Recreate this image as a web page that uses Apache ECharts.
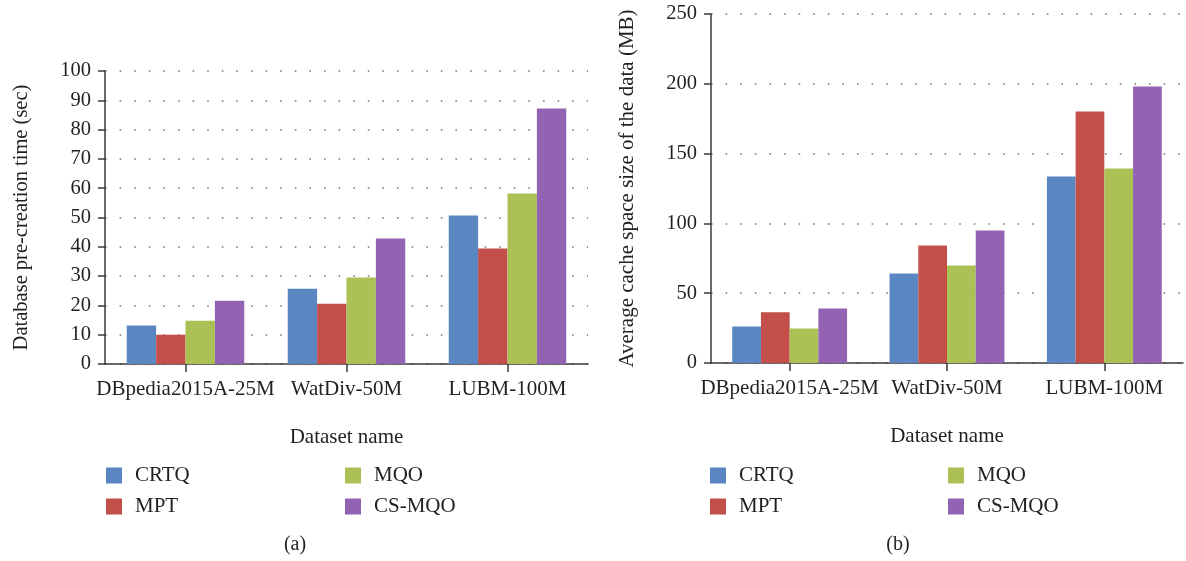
<!DOCTYPE html>
<html>
<head>
<meta charset="utf-8">
<script src="https://cdn.jsdelivr.net/npm/echarts@6/dist/echarts.min.js"></script>
<style>
html,body{margin:0;padding:0;background:#fff;}
#c{width:1186px;height:561px;}
</style>
</head>
<body>
<div id="c"></div>
<script>
const categories = ['DBpedia2015A-25M', 'WatDiv-50M', 'LUBM-100M'];
const seriesNames = ['CRTQ', 'MPT', 'MQO', 'CS-MQO'];
// (a) Database pre-creation time (sec)
const timeCRTQ = [13.1, 25.7, 50.7];
const timeMPT = [10.0, 20.6, 39.4];
const timeMQO = [14.8, 29.5, 58.2];
const timeCSMQO = [21.6, 42.8, 87.2];
// (b) Average cache space size of the data (MB)
const cacheCRTQ = [26.2, 64.2, 133.6];
const cacheMPT = [36.3, 84.2, 180.1];
const cacheMQO = [24.8, 69.9, 139.3];
const cacheCSMQO = [39.1, 94.9, 198.0];
const yTitleA = 'Database pre-creation time (sec)';
const yTitleB = 'Average cache space size of the data (MB)';
const xTitle = 'Dataset name';

const colors = ['#5a87c2', '#c24f4a', '#abc155', '#9263b2'];
const FONT = 'Liberation Serif';
const TXT = '#231f20';
const AXC = '#3a3a3a';

function xAxis(gi) {
  return {
    type: 'category', gridIndex: gi, data: categories,
    axisLine: { lineStyle: { color: AXC, width: 1.5 } },
    axisTick: { show: true, alignWithLabel: true, interval: 0, length: 8, lineStyle: { color: AXC, width: 1.5 } },
    axisLabel: { interval: 0, hideOverlap: false, color: TXT, fontFamily: FONT, fontSize: 21, margin: 15 },
    name: xTitle, nameLocation: 'middle', nameGap: 63,
    nameTextStyle: { color: TXT, fontFamily: FONT, fontSize: 21, verticalAlign: 'top' }
  };
}
function yAxis(gi, max, interval, name, fs) {
  return {
    type: 'value', gridIndex: gi, min: 0, max: max, interval: interval,
    axisLine: { show: true, lineStyle: { color: AXC, width: 1.5 } },
    axisTick: { show: true, length: 7, lineStyle: { color: AXC, width: 1.5 } },
    axisLabel: { color: TXT, fontFamily: FONT, fontSize: 20.5, margin: 14 },
    splitLine: { show: true, lineStyle: { color: '#7a7a7a', width: 1.6, type: [1.6, 13] } },
    name: name, nameLocation: 'middle', nameGap: 73, nameRotate: 90,
    nameTextStyle: { color: TXT, fontFamily: FONT, fontSize: fs }
  };
}
function bars(gi, arrs) {
  return arrs.map((d, i) => ({
    name: seriesNames[i], type: 'bar', xAxisIndex: gi, yAxisIndex: gi,
    data: d, barGap: '0%', barCategoryGap: '27%',
    itemStyle: { color: colors[i] }, emphasis: { disabled: true }, animation: false
  }));
}
function legend(left, names) {
  return {
    left: left, top: 465, orient: 'vertical', data: names, padding: 0,
    itemWidth: 16, itemHeight: 16, itemGap: 10, icon: 'rect', selectedMode: false,
    textStyle: { color: TXT, fontFamily: FONT, fontSize: 21, padding: [0, 0, 0, 8] }
  };
}

const chart = echarts.init(document.getElementById('c'), null, { renderer: 'canvas' });
chart.setOption({
  animation: false,
  backgroundColor: '#fff',
  grid: [
    { left: 105, right: 598, top: 71, bottom: 197 },
    { left: 711, right: 3, top: 14, bottom: 198 }
  ],
  xAxis: [xAxis(0), xAxis(1)],
  yAxis: [yAxis(0, 100, 10, yTitleA, 20.5), yAxis(1, 250, 50, yTitleB, 21)],
  legend: [
    legend(106, ['CRTQ', 'MPT']), legend(345, ['MQO', 'CS-MQO']),
    legend(710, ['CRTQ', 'MPT']), legend(948, ['MQO', 'CS-MQO'])
  ],
  title: [
    { text: '(a)', left: 295, top: 535, textAlign: 'center', textStyle: { color: TXT, fontFamily: FONT, fontSize: 20, fontWeight: 'normal' }, padding: 0 },
    { text: '(b)', left: 898, top: 535, textAlign: 'center', textStyle: { color: TXT, fontFamily: FONT, fontSize: 20, fontWeight: 'normal' }, padding: 0 }
  ],
  series: [
    ...bars(0, [timeCRTQ, timeMPT, timeMQO, timeCSMQO]),
    ...bars(1, [cacheCRTQ, cacheMPT, cacheMQO, cacheCSMQO])
  ]
});
</script>
</body>
</html>
